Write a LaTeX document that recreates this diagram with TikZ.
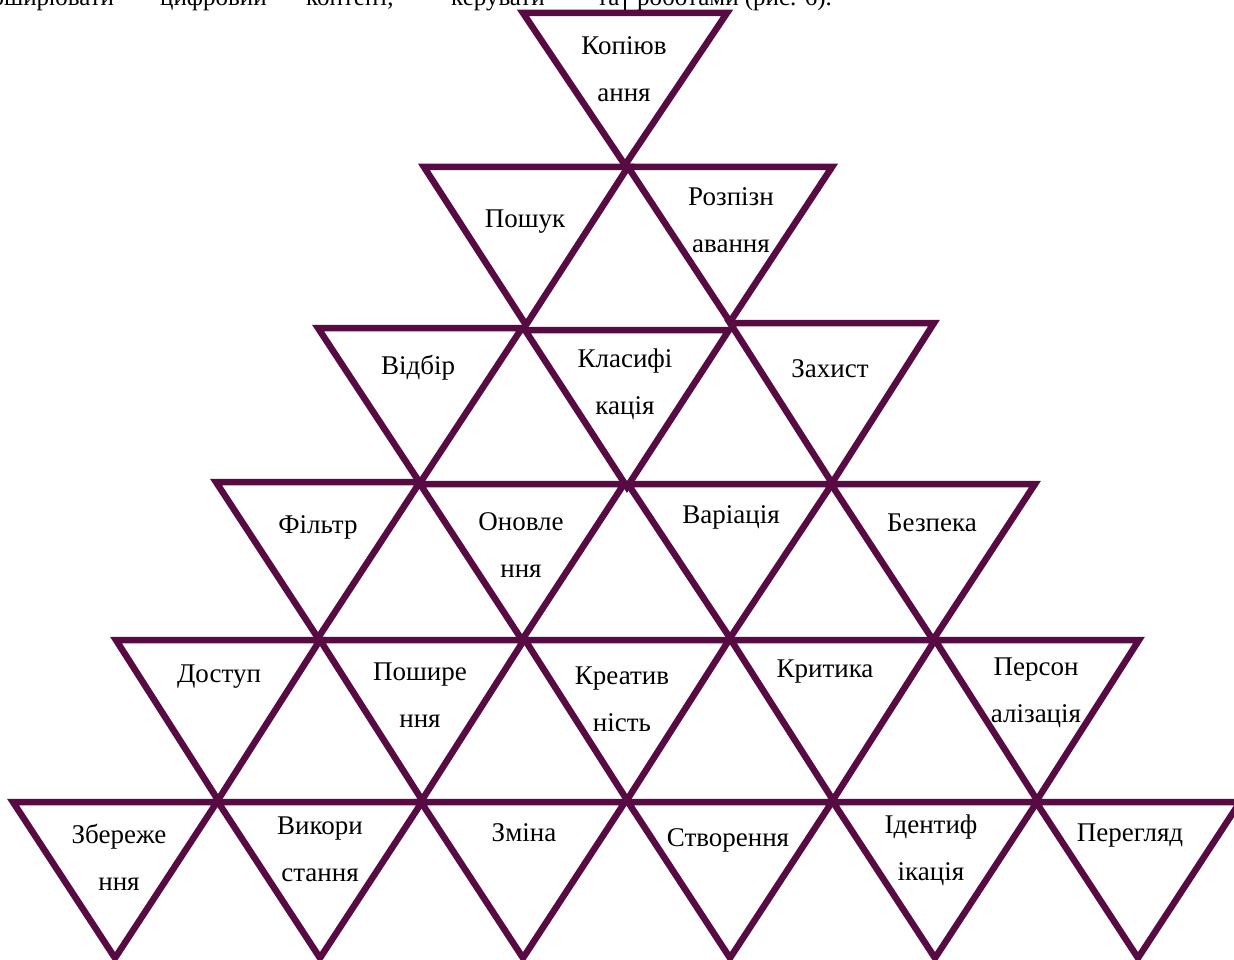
\documentclass[tikz,border=0pt]{standalone}
\usepackage{fontspec}
\setmainfont{Liberation Serif}
\definecolor{tricol}{RGB}{88,10,66}
\tikzset{
  tri/.style={draw=tricol, line width=6.5pt, line join=miter},
  lbl/.style={font=\fontsize{27}{47}\selectfont, align=center, inner sep=0pt},
  top/.style={font=\fontsize{25}{30}\selectfont, anchor=base west, inner sep=0pt}
}
\newcommand{\trig}[3]{\draw[tri] (#1-102,#2) -- (#1+102,#2) -- (#1,#3) -- cycle;}
\begin{document}
\begin{tikzpicture}[x=1pt,y=-1pt]
\useasboundingbox (0,0) rectangle (1234,960);
\clip (0,0) rectangle (1234,960);
% top text line (cut off)
\node[top] (w1) at (-22,6) {поширювати};
\node[top] (w2) at (160,6) {цифровий};
\node[top] (w3) at (306,6) {контент,};
\node[top] (w4) at (451,6) {керувати};
\node[top] (w5) at (597,6) {та};
\node[top] (w6) at (637,6) {роботами (рис. 6).};
\draw[line width=1.5pt] (625,-2) -- (625,11);
% triangles
\trig{625}{13}{165}
\trig{526}{167}{325}
\trig{730}{167}{322}
\trig{420}{328}{483}
\trig{627}{330}{487}
\trig{832}{323}{483}
\trig{318}{482}{638}
\trig{522}{484}{640}
\trig{730}{484}{638}
\trig{933}{484}{640}
\trig{218}{640}{800}
\trig{422}{640}{800}
\trig{627}{640}{800}
\trig{833}{640}{800}
\trig{1037}{640}{800}
\trig{115}{802}{958}
\trig{320}{802}{958}
\trig{523}{802}{958}
\trig{730}{802}{958}
\trig{935}{802}{958}
\trig{1138}{802}{958}
% labels
\node[lbl] (t01) at (624,69) {Копіюв\\ання};
\node[lbl] (t11) at (525,222) {Пошук};
\node[lbl] (t12) at (731,220) {Розпізн\\авання};
\node[lbl] (t21) at (418,368) {Відбір};
\node[lbl] (t22) at (625,384) {Класифі\\кація};
\node[lbl] (t23) at (830,369) {Захист};
\node[lbl] (t31) at (318,527) {Фільтр};
\node[lbl] (t32) at (521,545) {Оновле\\ння};
\node[lbl] (t33) at (731,517) {Варіація};
\node[lbl] (t34) at (932,523) {Безпека};
\node[lbl] (t41) at (219,677) {Доступ};
\node[lbl] (t42) at (420,695) {Пошире\\ння};
\node[lbl] (t43) at (622,699) {Креатив\\ність};
\node[lbl] (t44) at (825,672) {Критика};
\node[lbl] (t45) at (1036,693) {Персон\\алізація};
\node[lbl] (t51) at (119,857) {Збереже\\ння};
\node[lbl] (t52) at (320,849) {Викори\\стання};
\node[lbl] (t53) at (524,833) {Зміна};
\node[lbl] (t54) at (728,840) {Створення};
\node[lbl] (t55) at (931,850) {Ідентиф\\ікація};
\node[lbl] (t56) at (1130,836) {Перегляд};
\end{tikzpicture}
\end{document}
